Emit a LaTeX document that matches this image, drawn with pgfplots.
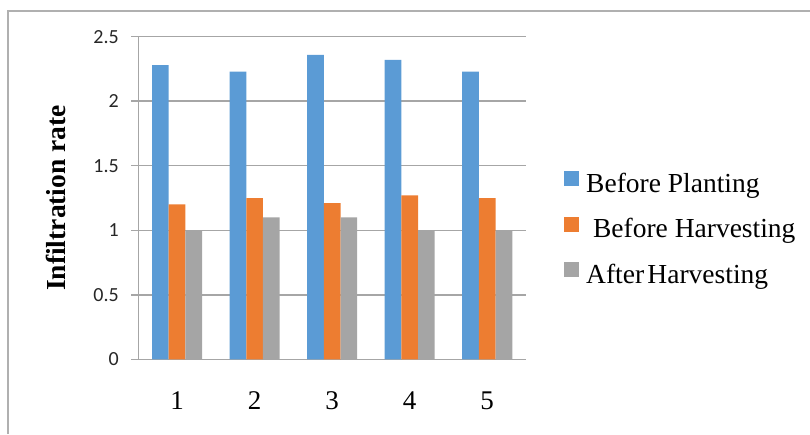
\documentclass[border=0pt]{standalone}
\usepackage{pgfplots}
\pgfplotsset{compat=1.18}
\usepackage{fontspec}
\setmainfont{Liberation Serif}
\newfontfamily\calib{Carlito}
\definecolor{cblue}{HTML}{5B9BD5}
\definecolor{corange}{HTML}{ED7D31}
\definecolor{cgray}{HTML}{A5A5A5}
\definecolor{gridc}{HTML}{A6A6A6}
\definecolor{framec}{HTML}{B0B0B0}
\begin{document}
\begin{tikzpicture}[x=1pt,y=1pt]
\useasboundingbox (0,0) rectangle (810,434);
\draw[framec, line width=1.5pt] (8,0) -- (8,423) -- (810,423);
\begin{axis}[
  at={(138.3pt,74.7pt)}, anchor=south west,
  scale only axis, width=387.7pt, height=322.6pt,
  xmin=0.5, xmax=5.5, ymin=0, ymax=2.5,
  ybar=0pt, bar width=16.7pt,
  xtick={1,2,3,4,5},
  extra x ticks={0.5,1.5,2.5,3.5,4.5,5.5},
  extra x tick labels={},
  extra x tick style={major tick length=9pt, tick style={gridc, line width=1.5pt}, grid=none},
  ytick={0,0.5,1,1.5,2,2.5},
  axis x line=bottom, axis y line=left,
  axis line style={-, gridc, line width=1.5pt},
  tick align=outside,
  x tick style={draw=none},
  y tick style={gridc, line width=1.5pt},
  major tick length=7pt,
  ymajorgrids, major grid style={gridc, line width=1.5pt},
  /pgf/number format/assume math mode=true,
  yticklabel style={font=\calib\fontsize{20}{24}\selectfont, text=black!85, xshift=-9pt},
  xticklabel style={font=\fontsize{27}{30}\selectfont, yshift=-22pt},
  ylabel={\textbf{Infiltration rate}},
  every axis y label/.style={at={(axis description cs:-0.2115,0.5)}, rotate=90, anchor=center, font=\fontsize{27.5}{30}\selectfont},
  legend style={at={(axis description cs:1.098,0.583)}, anchor=north west, draw=none, fill=none,
    font=\fontsize{27.5}{30}\selectfont, row sep=23pt, inner sep=0pt, nodes={inner sep=0pt}},
  /tikz/every odd column/.append style={column sep=7pt},
  legend cell align=left,
  legend image code/.code={\path[#1, draw=none] (0pt,-3pt) rectangle (15pt,12pt);},
]
\addplot[fill=cblue, draw=none] coordinates {(1,2.28) (2,2.23) (3,2.36) (4,2.32) (5,2.23)};
\addplot[fill=corange, draw=none] coordinates {(1,1.20) (2,1.25) (3,1.21) (4,1.27) (5,1.25)};
\addplot[fill=cgray, draw=none] coordinates {(1,1.00) (2,1.10) (3,1.10) (4,1.00) (5,1.00)};
\legend{Before Planting,\hspace{0.25em}Before Harvesting,After\hspace{0.12em}Harvesting}
\end{axis}
\end{tikzpicture}
\end{document}
